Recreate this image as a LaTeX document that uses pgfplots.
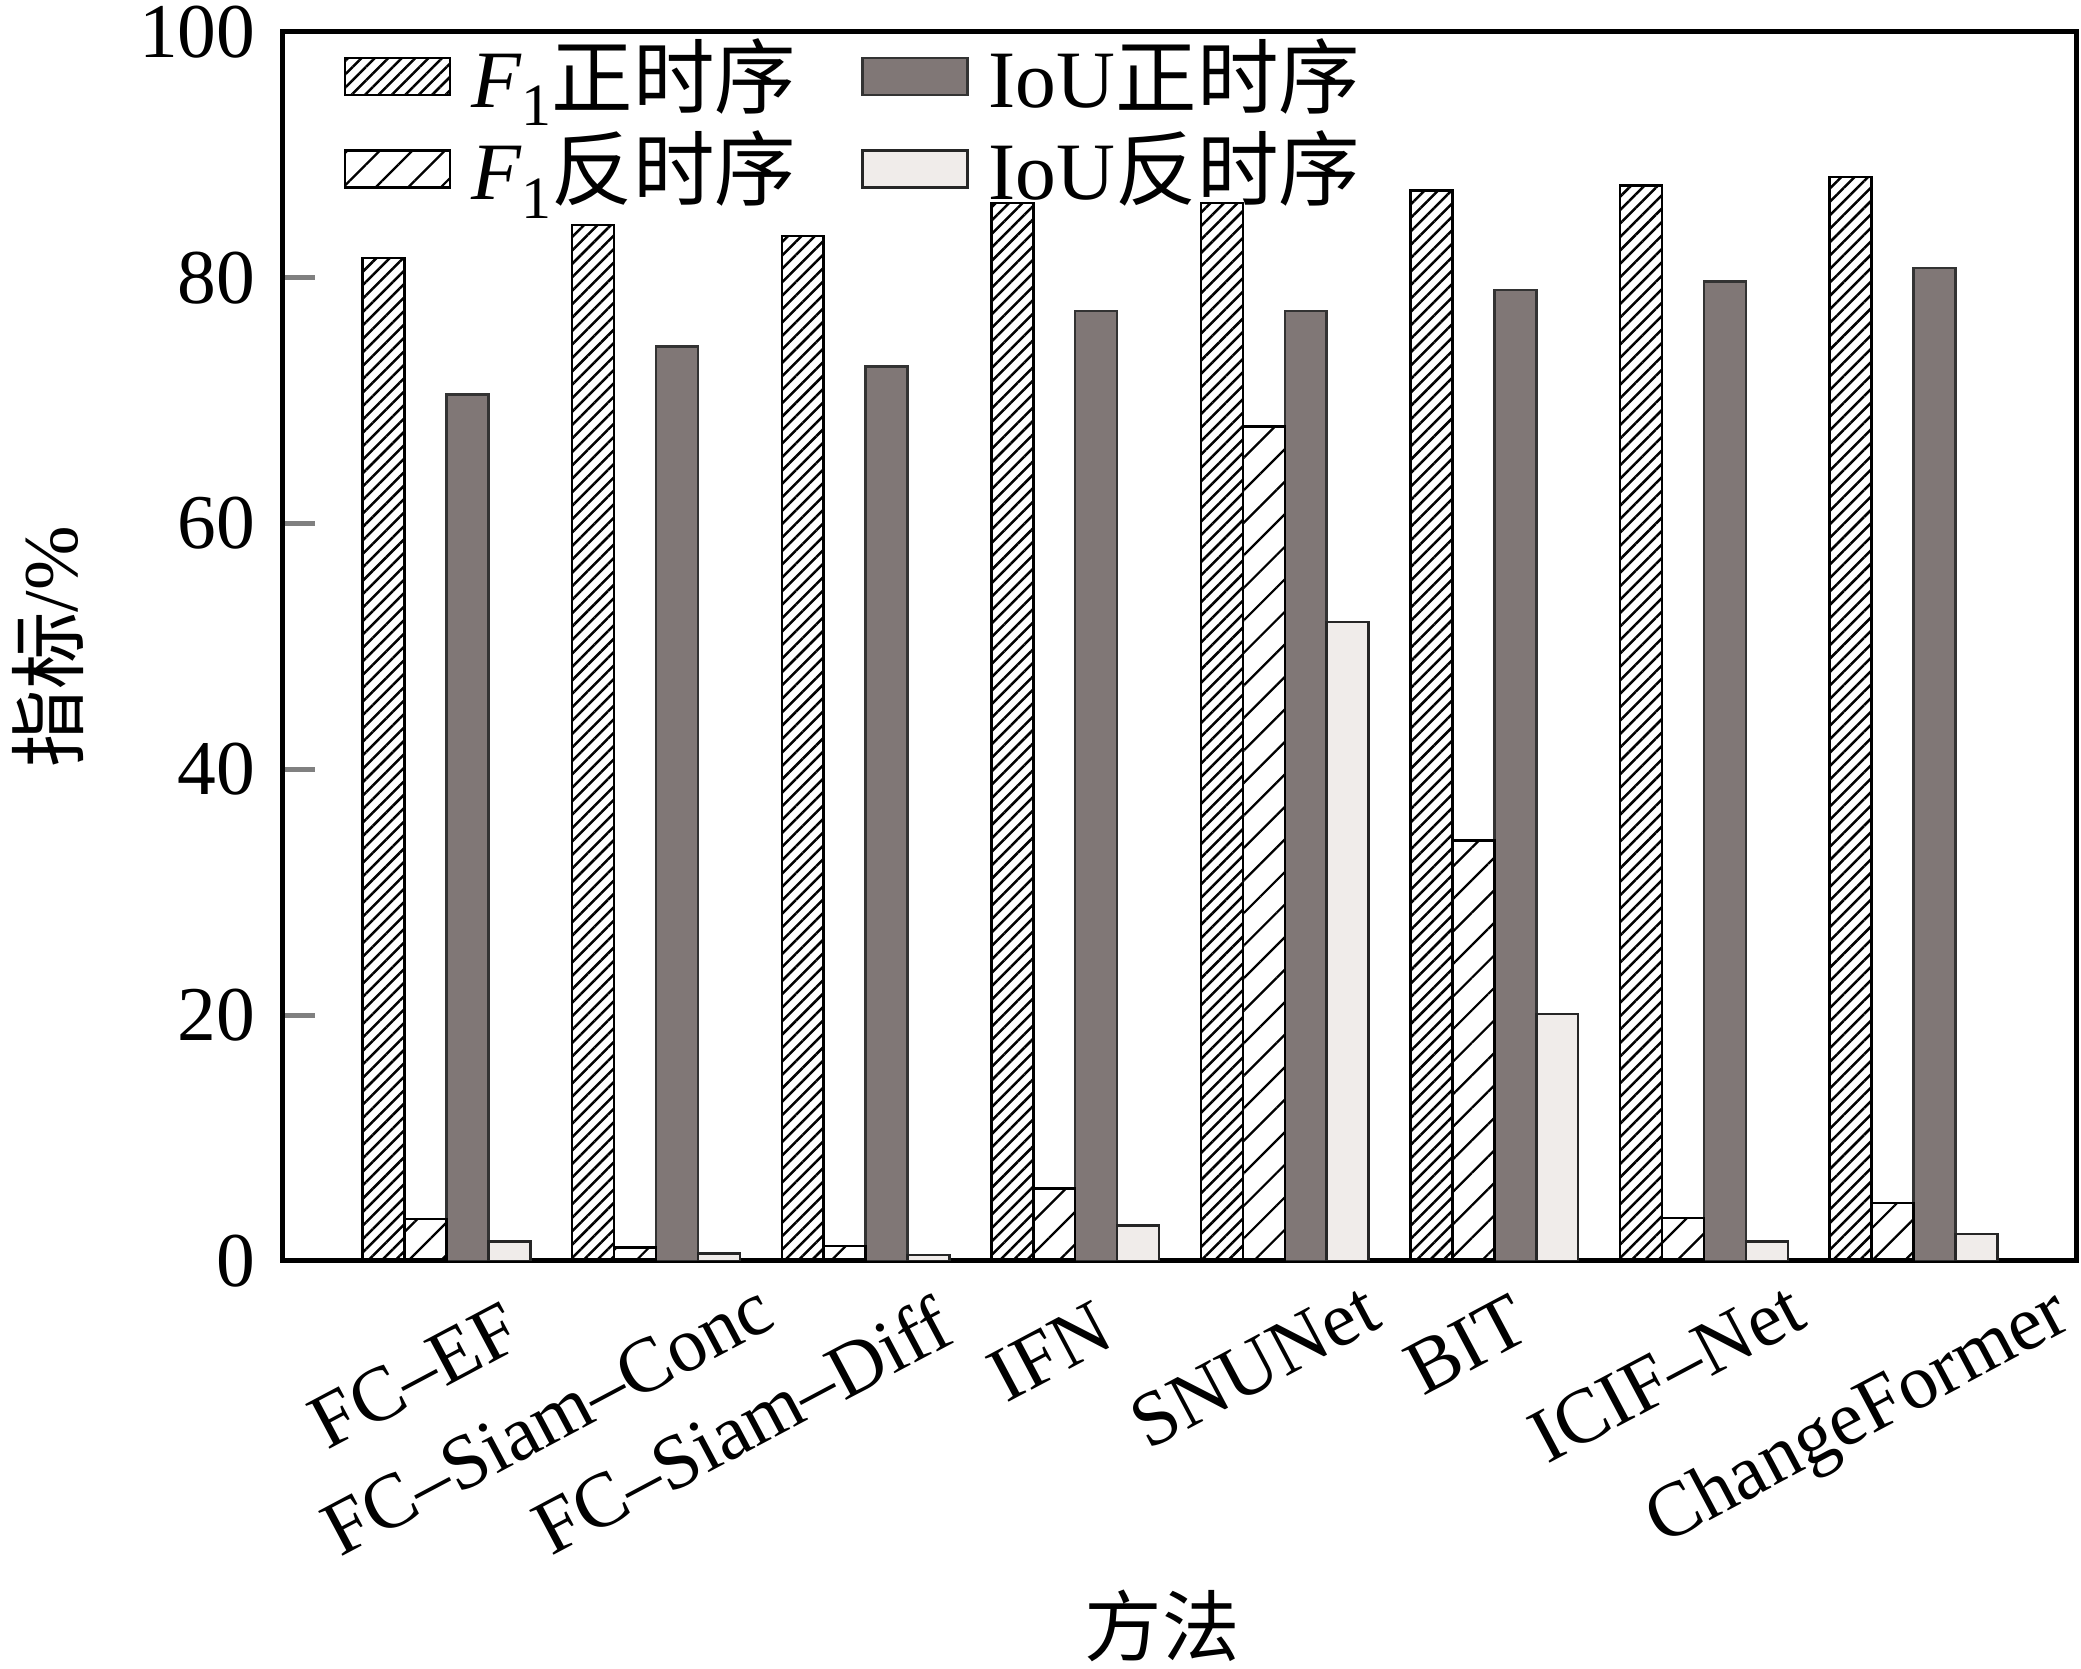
\documentclass[border=0pt]{standalone}
\usepackage{fontspec}
\setmainfont{Liberation Serif}
\newfontfamily\cjk{Noto Sans CJK SC}
\usepackage{pgfplots}
\pgfplotsset{compat=1.18}
\usetikzlibrary{patterns.meta,calc}

\definecolor{iouf}{RGB}{128,119,118}
\definecolor{iour}{RGB}{240,236,234}

\newcommand{\Fone}{\hspace{2pt}\textit{F}\raisebox{-0.5ex}{\fontsize{12}{12}\selectfont 1}}

\begin{document}
\begin{tikzpicture}
\begin{axis}[
  scale only axis,
  width=358.8pt, height=245.8pt,
  ymin=0, ymax=100,
  ytick={0,20,40,60,80,100},
  xmin=-0.78, xmax=7.78,
  xtick={0,1,2,3,4,5,6,7},
  xticklabels={FC--EF,FC--Siam--Conc,FC--Siam--Diff,IFN,SNUNet,BIT,ICIF--Net,ChangeFormer},
  xtick style={draw=none},
  ytick pos=left,
  tick align=inside,
  major tick length=6.4pt,
  ytick style={line width=1pt},
  axis line style={line width=1pt},
  /pgf/number format/assume math mode=true,
  tick label style={font=\fontsize{15.5}{18}\selectfont},
  yticklabel style={xshift=-2pt},
  xticklabel style={
    xshift={{12.5,21,14.6,5.1,16.5,4.5,17.8,28.4}[\ticknum]*1pt},
    yshift={{3.4,7.4,4.8,3.4,7.4,4.8,7.4,7.4}[\ticknum]*1pt},
    rotate=28, anchor=north east},
  ylabel={{\cjk 指标}/\%},
  ylabel style={font=\fontsize{15.5}{18}\selectfont, at={(axis description cs:-0.131,0.5)}, anchor=center},
  xlabel={\cjk 方法},
  xlabel style={font=\fontsize{15.5}{18}\selectfont, at={(axis description cs:0.49,-0.297)}, anchor=center},
  ybar, bar width=0.2,
  legend columns=2,
  legend style={at={(axis description cs:0.025,1.012)}, anchor=north west, draw=none, fill=none,
    font=\fontsize{16.3}{18}\selectfont, row sep=-0.8pt,
    /tikz/every even column/.append style={column sep=11pt}},
  legend image code/.code={\draw[#1] (0pt,-3.7pt) rectangle (21pt,3.7pt);},
]
\addplot[draw=black, line width=0.5pt, bar shift=-0.3, pattern={Lines[angle=45,distance=1.9pt,line width=0.5pt]}, pattern color=black]
  coordinates {(0,81.6) (1,84.3) (2,83.4) (3,86.1) (4,86.1) (5,87.1) (6,87.5) (7,88.2)};
\addlegendentry{\Fone{\cjk 正时序}}
\addplot[draw=black!80, line width=0.5pt, bar shift=0.1, fill=iouf]
  coordinates {(0,70.5) (1,74.4) (2,72.8) (3,77.3) (4,77.3) (5,79.0) (6,79.7) (7,80.8)};
\addlegendentry{\hspace{2pt}IoU{\cjk 正时序}}
\addplot[draw=black, line width=0.5pt, bar shift=-0.1, pattern={Lines[angle=45,distance=4.6pt,line width=0.45pt]}, pattern color=black]
  coordinates {(0,3.4) (1,1.1) (2,1.2) (3,5.9) (4,67.9) (5,34.2) (6,3.5) (7,4.7)};
\addlegendentry{\Fone{\cjk 反时序}}
\addplot[draw=black!85, line width=0.5pt, bar shift=0.3, fill=iour]
  coordinates {(0,1.6) (1,0.6) (2,0.5) (3,2.9) (4,52.0) (5,20.1) (6,1.6) (7,2.2)};
\addlegendentry{\hspace{2pt}IoU{\cjk 反时序}}
\end{axis}
\pgfresetboundingbox
\path ($(current axis.south west)+(-56.6pt,-81.6pt)$) rectangle ($(current axis.north east)+(0.8pt,6.4pt)$);
\end{tikzpicture}
\end{document}
